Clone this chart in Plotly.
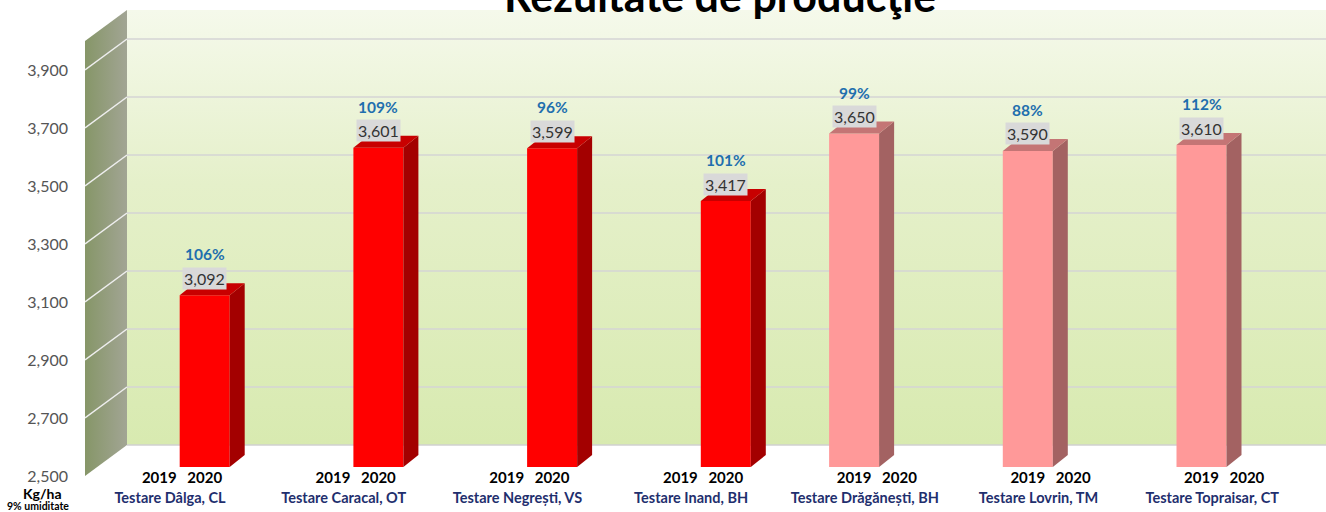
import plotly.graph_objects as go

# ---------------- data ----------------
groups = ["Testare Dâlga, CL", "Testare Caracal, OT", "Testare Negrești, VS",
          "Testare Inand, BH", "Testare Drăgănești, BH", "Testare Lovrin, TM",
          "Testare Topraisar, CT"]
years = ["2019", "2020"]
val_2019 = [None, None, None, None, 3650, 3590, 3610]
val_2020 = [3092, 3601, 3599, 3417, None, None, None]
pct_labels = ["106%", "109%", "96%", "101%", "99%", "88%", "112%"]
y_ticks = [2500, 2700, 2900, 3100, 3300, 3500, 3700, 3900]
title_text = "Rezultate de producţie"
unit_main = "Kg/ha"
unit_sub = "9% umiditate"

# ---------------- layout constants (pixels) ----------------
W, H = 1326, 512
L, R, T, B = 85, 0, 10, 32
PLOT_W = W - L - R
PLOT_H = H - T - B
BOTTOM_PX = H - B
PPU = 0.29                # pixels per value unit
BASE = 2500
WALL_TOP = 4000
WALL_X0 = 127            # back-wall left edge (px)
BAR_PLANE = 467          # pixel y of BASE for bars
LABEL_PLANE = 476        # pixel y of BASE for front tick labels
BACK_PLANE = 445         # pixel y of BASE on the back wall
G0 = 182                 # first group centre (px)
GP = 173.7               # group pitch (px)
SUB = 22.7 / GP          # half distance between years
BW = 50 / GP             # bar width
DX = 15 / GP             # depth offset x
DY = 12 / PPU            # depth offset y (value units)
SIDE_SHIFT = (LABEL_PLANE - BACK_PLANE) / PPU


def yrange(base_px):
    lo = BASE - (BOTTOM_PX - base_px) / PPU
    return [lo, lo + PLOT_H / PPU]


def paper_x(px):
    return (px - L) / PLOT_W


def paper_y(py):
    return (BOTTOM_PX - py) / PLOT_H


xr = [-(G0 - L) / GP, (W - R - G0) / GP]

fig = go.Figure()

# ---------- walls (main subplot x / y : pixel x, back-wall y) ----------
fig.add_trace(go.Scatter(
    x=[WALL_X0, W, W, WALL_X0, WALL_X0], y=[BASE, BASE, WALL_TOP, WALL_TOP, BASE],
    fill="toself", mode="none", hoverinfo="skip", showlegend=False,
    fillgradient=dict(type="vertical",
                      colorscale=[[0, "#d8eab0"], [0.6, "#e5f0ca"], [1, "#f5f9eb"]])))
fig.add_trace(go.Scatter(
    x=[L, WALL_X0, WALL_X0, L, L],
    y=[BASE - SIDE_SHIFT, BASE, WALL_TOP, WALL_TOP - SIDE_SHIFT, BASE - SIDE_SHIFT],
    fill="toself", mode="none", hoverinfo="skip", showlegend=False,
    fillgradient=dict(type="horizontal",
                      colorscale=[[0, "#869668"], [1, "#a2a594"]])))

gx, gy = [], []
for v in y_ticks[1:]:
    gx += [WALL_X0, W, None]
    gy += [v, v, None]
fig.add_trace(go.Scatter(x=gx, y=gy, mode="lines", hoverinfo="skip", showlegend=False,
                         line=dict(color="#d4d4d4", width=1.5)))
fig.add_trace(go.Scatter(x=[WALL_X0, W], y=[BASE, BASE], mode="lines", hoverinfo="skip",
                         showlegend=False, line=dict(color="#d0d0d0", width=1.5)))
sx, sy = [], []
for v in y_ticks[1:]:
    sx += [L, WALL_X0, None]
    sy += [v - SIDE_SHIFT, v, None]
fig.add_trace(go.Scatter(x=sx, y=sy, mode="lines", hoverinfo="skip", showlegend=False,
                         line=dict(color="#eeeeee", width=1.5)))

# ---------- bars (overlay subplot x2 / y2) ----------
styles = {
    "2019": dict(front="#ff9999", side="#a36262", top="#c47575"),
    "2020": dict(front="#ff0000", side="#a30000", top="#c80000"),
}
series = {"2019": val_2019, "2020": val_2020}
for j, yr in enumerate(years):
    vals = series[yr]
    xs = [i + (-SUB if j == 0 else SUB) for i in range(len(groups))]
    bx = [x for x, v in zip(xs, vals) if v is not None]
    bv = [v for v in vals if v is not None]
    st = styles[yr]
    fig.add_trace(go.Bar(x=bx, y=[v - BASE for v in bv], base=BASE, width=BW,
                         marker=dict(color=st["front"], line=dict(width=0)),
                         xaxis="x2", yaxis="y2", showlegend=False, hoverinfo="skip"))
    for x, v in zip(bx, bv):
        xl, xrr = x - BW / 2, x + BW / 2
        fig.add_trace(go.Scatter(
            x=[xrr, xrr + DX, xrr + DX, xrr, xrr], y=[BASE, BASE + DY, v + DY, v, BASE],
            fill="toself", mode="none", fillcolor=st["side"], xaxis="x2", yaxis="y2",
            hoverinfo="skip", showlegend=False))
        fig.add_trace(go.Scatter(
            x=[xl, xl + DX, xrr + DX, xrr, xl], y=[v, v + DY, v + DY, v, v],
            fill="toself", mode="none", fillcolor=st["top"], xaxis="x2", yaxis="y2",
            hoverinfo="skip", showlegend=False))

# dummy trace for the label axes
fig.add_trace(go.Scatter(x=[0], y=[BASE], mode="markers", marker=dict(opacity=0),
                         xaxis="x3", yaxis="y3", hoverinfo="skip", showlegend=False))

# ---------- annotations ----------
ann = []
for i in range(len(groups)):
    if val_2019[i] is not None:
        v, x = val_2019[i], i - SUB
    else:
        v, x = val_2020[i], i + SUB
    ann.append(dict(x=x, y=v, xref="x2", yref="y2", text=f"{v:,}", showarrow=False,
                    xanchor="center", yanchor="middle",
                    yshift=17, bgcolor="#d9d9d9", borderpad=1,
                    font=dict(family="Lato", size=16, color="#333333")))
    ann.append(dict(x=x, y=v, xref="x2", yref="y2", text=f"<b>{pct_labels[i]}</b>",
                    showarrow=False, yshift=41, xanchor="center", yanchor="middle",
                    font=dict(family="Lato", size=15.5, color="#1f6fae")))

ann.append(dict(x=paper_x(720), y=paper_y(-5), xref="paper", yref="paper",
                text=f"<b>{title_text}</b>", showarrow=False,
                xanchor="center", yanchor="middle",
                font=dict(family="Lato", size=43, color="#000000")))
ann.append(dict(x=paper_x(42), y=paper_y(493), xref="paper", yref="paper",
                text=f"<b>{unit_main}</b>", showarrow=False,
                xanchor="center", yanchor="middle",
                font=dict(family="Lato", size=14, color="#000000")))
ann.append(dict(x=paper_x(38), y=paper_y(506), xref="paper", yref="paper",
                text=f"<b>{unit_sub}</b>", showarrow=False,
                xanchor="center", yanchor="middle", borderpad=0,
                font=dict(family="Lato", size=10.5, color="#000000")))

year_pos, year_txt = [], []
for i in range(len(groups)):
    year_pos += [i - SUB, i + SUB]
    year_txt += [f"<b>{years[0]}</b>", f"<b>{years[1]}</b>"]

fig.update_layout(
    width=W, height=H,
    margin=dict(l=L, r=R, t=T, b=B, pad=0),
    paper_bgcolor="white", plot_bgcolor="white",
    barmode="overlay",
    showlegend=False,
    annotations=ann,
    xaxis=dict(range=[L, W - R], visible=False, fixedrange=True),
    yaxis=dict(range=yrange(BACK_PLANE), visible=False, fixedrange=True),
    xaxis2=dict(range=xr, overlaying="x", anchor="free", position=paper_y(467),
                tickmode="array", tickvals=year_pos, ticktext=year_txt,
                showgrid=False, zeroline=False, showline=False, ticks="",
                tickfont=dict(family="Lato", size=15, color="#000000")),
    yaxis2=dict(range=yrange(BAR_PLANE), overlaying="y", visible=False),
    xaxis3=dict(range=xr, overlaying="x", anchor="free", position=0,
                tickmode="array", tickvals=[i - 12 / GP for i in range(len(groups))],
                ticktext=[f"<b>{g}</b>" for g in groups],
                showgrid=False, zeroline=False, showline=False, ticks="",
                ticklabelstandoff=7,
                tickfont=dict(family="Lato", size=14.5, color="#1f2f6e")),
    yaxis3=dict(range=yrange(LABEL_PLANE), overlaying="y", anchor="free", position=0,
                tickmode="array", tickvals=y_ticks, tickformat=",",
                showgrid=False, zeroline=False, showline=False, ticks="",
                ticklabelstandoff=17,
                tickfont=dict(family="Lato", size=16, color="#555555")),
)

fig.write_html("out.html", config={"displayModeBar": False},
               post_script="document.body.style.margin='0px';document.body.style.overflow='hidden';")
